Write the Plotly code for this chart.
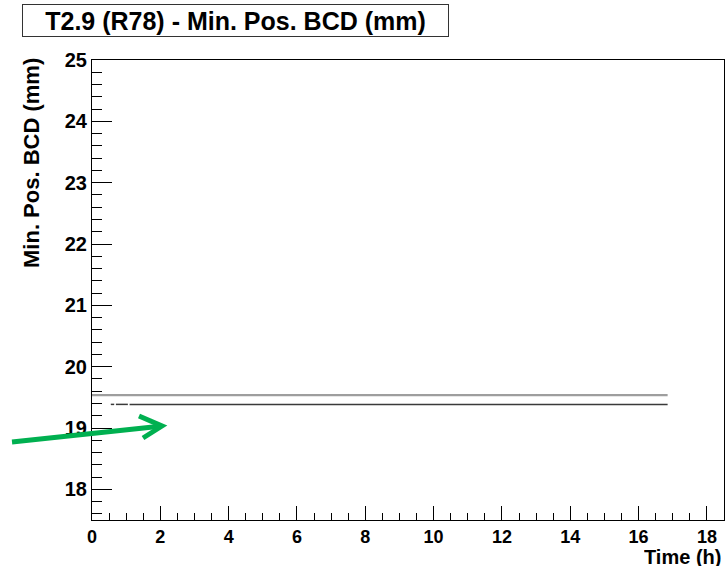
import plotly.graph_objects as go

# Minimum BCD position over time, two readouts (mm vs hours)
time_upper = [0.0, 3.6, 4.4, 5.1, 7.2, 16.85]
pos_upper = [19.535, 19.535, 19.535, 19.535, 19.535, 19.535]

time_lower = [0.55, 0.65, None, 0.7, 1.05, None, 1.1, 16.85]
pos_lower = [19.385, 19.385, None, 19.385, 19.385, None, 19.385, 19.385]

title_text = "T2.9 (R78) - Min. Pos. BCD (mm)"
y_title = "Min. Pos. BCD (mm)"
x_title = "Time (h)"

FONT = "Liberation Sans, Arial, Helvetica, sans-serif"
W, H = 728, 567
ML, MR, MT, MB = 92, 4, 60, 47
PW, PH = W - ML - MR, H - MT - MB


def px(x):
    return (x - ML) / PW


def py(y):
    return (H - MB - y) / PH


fig = go.Figure()
fig.add_trace(go.Scatter(x=time_upper, y=pos_upper, mode="lines",
                         line=dict(color="#9e9e9e", width=2.2),
                         connectgaps=False, hoverinfo="skip"))
fig.add_trace(go.Scatter(x=time_lower, y=pos_lower, mode="lines",
                         line=dict(color="#3a3a3a", width=1.5),
                         connectgaps=False, hoverinfo="skip"))

fig.update_xaxes(range=[0, 18.5], dtick=2, tick0=0, showgrid=False, zeroline=False,
                 showline=True, mirror=True, linecolor="black", linewidth=1,
                 ticks="inside", ticklen=14, tickwidth=1, tickcolor="black",
                 tickfont=dict(family=FONT, size=18, color="black", weight="bold"),
                 minor=dict(dtick=0.5, ticks="inside", ticklen=7, tickwidth=1,
                            tickcolor="black", showgrid=False))
fig.update_yaxes(range=[17.5, 25], dtick=1, tick0=0, showgrid=False, zeroline=False,
                 showline=True, mirror=True, linecolor="black", linewidth=1,
                 ticks="inside", ticklen=20, tickwidth=1, tickcolor="black",
                 tickfont=dict(family=FONT, size=20, color="black", weight="bold"),
                 minor=dict(dtick=0.2, ticks="inside", ticklen=10, tickwidth=1,
                            tickcolor="black", showgrid=False))

annotations = [
    # boxed title
    dict(text=title_text, xref="paper", yref="paper", x=px(235.5), y=py(20.5),
         xanchor="center", yanchor="middle", showarrow=False,
         font=dict(family=FONT, size=25, color="black", weight="bold"),
         bordercolor="#333333", borderwidth=1, borderpad=0,
         width=425, height=31, bgcolor="white"),
    # y axis title
    dict(text=y_title, xref="paper", yref="paper", x=px(31), y=py(163),
         xanchor="center", yanchor="middle", showarrow=False, textangle=-90,
         font=dict(family=FONT, size=22, color="black", weight="bold")),
    # x axis title
    dict(text=x_title, xref="paper", yref="paper", x=px(723), y=py(557),
         xanchor="right", yanchor="middle", showarrow=False, height=18,
         font=dict(family=FONT, size=20, color="black", weight="bold")),
]

# green pointer arrow (shaft + open chevron head)
green = "#00b050"
tip = (162, 426)
tail = (12, 442)
arm1 = (139, 416)
arm2 = (143, 438)
shapes = [
    dict(type="line", xref="paper", yref="paper",
         x0=px(tail[0]), y0=py(tail[1]), x1=px(tip[0] - 2), y1=py(tip[1] + 0.2),
         line=dict(color=green, width=5)),
    dict(type="path", xref="paper", yref="paper",
         path=f"M{px(arm1[0])},{py(arm1[1])} L{px(tip[0])},{py(tip[1])} L{px(arm2[0])},{py(arm2[1])}",
         line=dict(color=green, width=5)),
]

fig.update_layout(width=W, height=H, margin=dict(l=ML, r=MR, t=MT, b=MB),
                  paper_bgcolor="white", plot_bgcolor="white", showlegend=False,
                  annotations=annotations, shapes=shapes)

fig.write_html("out.html")
